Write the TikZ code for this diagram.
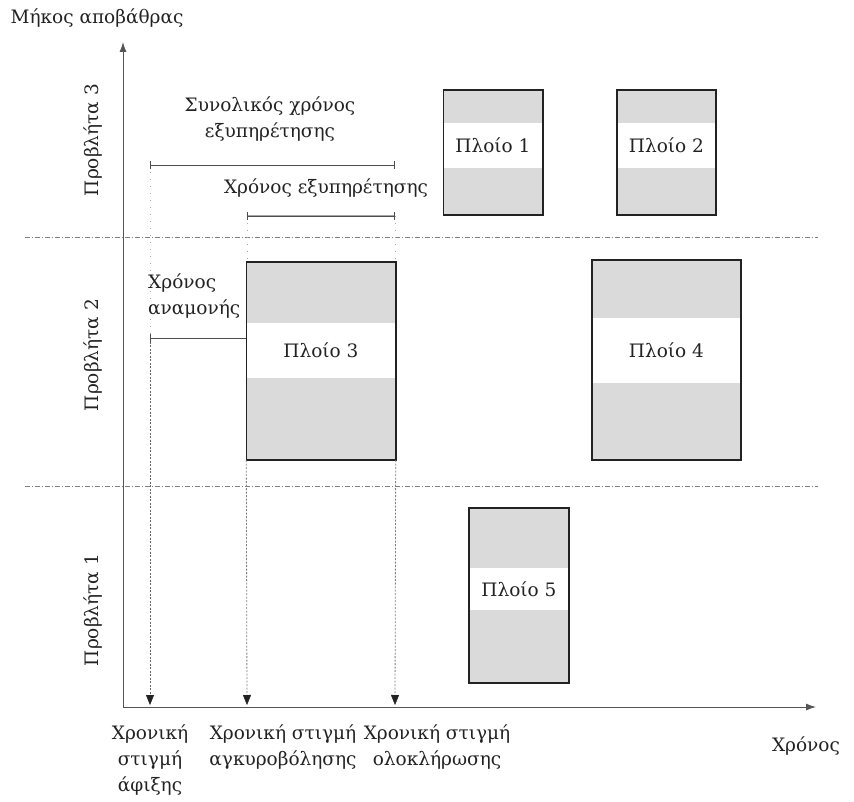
\documentclass[tikz,border=0pt]{standalone}
\usepackage{fontspec}
\setmainfont{DejaVu Serif}
\usetikzlibrary{arrows.meta}
\definecolor{ink}{HTML}{222222}
\definecolor{shipfill}{HTML}{DADADA}
\definecolor{axisgray}{HTML}{555555}
\tikzset{
  txt/.style={font=\fontsize{18.5}{26}\selectfont, text=ink, inner sep=0pt, align=center},
  shipfillbox/.style={fill=shipfill, inner sep=0pt},
  axisline/.style={draw=axisgray, line width=0.9pt, -{Latex[length=10pt,width=7pt]}},
  laneline/.style={draw=gray, line width=0.7pt, dash pattern=on 5pt off 2pt on 1pt off 2pt},
  dropline/.style={draw=gray, line width=0.8pt, dash pattern=on 2pt off 1.5pt, -{Triangle[length=10pt,width=8pt,color=ink,line width=0.4pt]}},
  faintline/.style={draw=gray!70, line width=0.6pt, dash pattern=on 1pt off 6pt},
  spanline/.style={draw=ink!80, line width=0.9pt, {|[width=8pt]}-{|[width=8pt]}},
}
\newcommand{\shipdraw}[3]{%
  \fill[white] (#1.west |- 0,#2) rectangle (#1.east |- 0,#3);
  \draw[draw=ink, line width=1.6pt] (#1.south west) rectangle (#1.north east);}
\begin{document}
\begin{tikzpicture}[x=1pt,y=-1pt]
\useasboundingbox (0,0) rectangle (854,802);

% axes
\coordinate (O) at (123,707);
\coordinate (ytip) at (123,42);
\coordinate (xtip) at (816,707);
\draw[axisline] (O) -- (ytip);
\draw[axisline] (O) -- (xtip);

% quay separators
\coordinate (s1l) at (25,237);
\coordinate (s1r) at (818,237);
\coordinate (s2l) at (25,486);
\coordinate (s2r) at (818,486);
\draw[laneline] (s1l) -- (s1r);
\draw[laneline] (s2l) -- (s2r);

% time instant coordinates
\coordinate (tA) at (150,165);
\coordinate (tAm) at (150,338);
\coordinate (tAb) at (150,705);
\coordinate (tB) at (247,216);
\coordinate (tBm) at (247,262);
\coordinate (tBb) at (247,705);
\coordinate (tC) at (395,216);
\coordinate (tCm) at (395,262);
\coordinate (tCb) at (395,705);

% faint guide lines
\draw[faintline] (tA) -- (tAm);
\draw[faintline] (tB) -- (tBm);
\draw[faintline] (tC) -- (tCm);

% ships
\node[shipfillbox, minimum width=99pt, minimum height=125pt] (p1) at (493,152.5) {};
\shipdraw{p1}{123}{168}
\node[txt] (l1) at (493,145.5) {Πλοίο 1};
\node[shipfillbox, minimum width=99pt, minimum height=125pt] (p2) at (666.5,152.5) {};
\shipdraw{p2}{123}{168}
\node[txt] (l2) at (666.5,145.5) {Πλοίο 2};
\node[shipfillbox, minimum width=149pt, minimum height=198pt] (p3) at (321,361) {};
\shipdraw{p3}{323}{378}
\node[txt] (l3) at (321,350.5) {Πλοίο 3};
\node[shipfillbox, minimum width=149pt, minimum height=200pt] (p4) at (666.5,360) {};
\shipdraw{p4}{318}{383}
\node[txt] (l4) at (666.5,350.5) {Πλοίο 4};
\node[shipfillbox, minimum width=100pt, minimum height=175pt] (p5) at (519,595.5) {};
\shipdraw{p5}{568}{610}
\node[txt] (l5) at (519,589) {Πλοίο 5};

% drop arrows
\draw[dropline, draw=ink!70] (tAm) -- (tAb);
\draw[dropline] (p3.south west) -- (tBb);
\draw[dropline] (p3.south east) -- (tCb);

% spans
\draw[draw=ink!80, line width=0.9pt, {|[width=8pt]}-] (tAm) -- (p3.west |- tAm);
\draw[spanline] (tA) -- (395,165);
\draw[draw=gray!70, line width=1.8pt] (tB) -- (tC);
\draw[draw=ink!80, line width=0.9pt, {|[width=8pt]}-{|[width=8pt]}] (tB) -- (tC);

% labels
\node[txt] (title) at (97,18) {Μήκος αποβάθρας};
\node[txt] (tot) at (270,119) {Συνολικός χρόνος\\εξυπηρέτησης};
\node[txt] (serv) at (326,188) {Χρόνος εξυπηρέτησης};
\node[txt, anchor=west, align=left] (wait) at (148,296.5) {Χρόνος\\αναμονής};
\node[txt, rotate=90] (q3) at (93,140) {Προβλήτα 3};
\node[txt, rotate=90] (q2) at (93,355) {Προβλήτα 2};
\node[txt, rotate=90] (q1) at (93,610) {Προβλήτα 1};
\node[txt, anchor=north] (ba) at (150,724) {Χρονική\\στιγμή\\άφιξης};
\node[txt, anchor=north] (bb) at (283,724) {Χρονική στιγμή\\αγκυροβόλησης};
\node[txt, anchor=north] (bc) at (437,724) {Χρονική στιγμή\\ολοκλήρωσης};
\node[txt] (xl) at (806,746) {Χρόνος};
\end{tikzpicture}
\end{document}
